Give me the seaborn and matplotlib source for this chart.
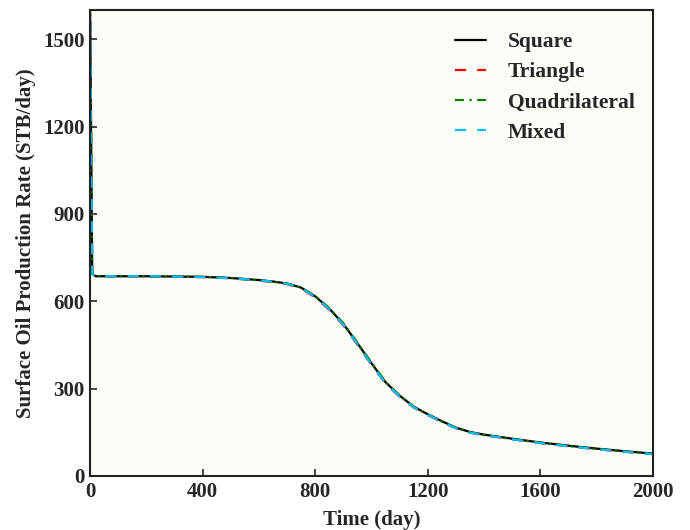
import matplotlib
matplotlib.use("Agg")
import matplotlib.pyplot as plt
import seaborn as sns
import pandas as pd

time = [0, 8, 20, 100, 200, 300, 400, 500, 600, 650, 700, 750, 800, 850, 900, 950, 1000,
        1050, 1100, 1150, 1200, 1250, 1300, 1350, 1400, 1500, 1600, 1700, 1800, 1900, 2000]
square = [1650, 695, 686, 686, 686, 685, 684, 680, 673, 668, 661, 647, 617, 575, 522, 456, 387,
          322, 276, 238, 212, 188, 166, 151, 142, 128, 115, 104, 94, 85, 77]
triangle = [1650, 694, 686, 686, 686, 685, 683, 679, 671, 666, 659, 644, 613, 571, 518, 451, 382,
            318, 272, 235, 209, 185, 164, 149, 140, 126, 113, 102, 92, 83, 75]
quadrilateral = [1650, 696, 686, 686, 686, 685, 684, 680, 672, 667, 661, 647, 618, 577, 525, 458, 389,
                 323, 276, 238, 211, 187, 165, 150, 141, 127, 114, 103, 93, 84, 76]
mixed = [1650, 694, 686, 686, 686, 685, 683, 679, 672, 667, 660, 645, 615, 573, 520, 453, 383,
         319, 273, 236, 210, 186, 164, 149, 140, 126, 113, 102, 92, 83, 75]

labels = ["Square", "Triangle", "Quadrilateral", "Mixed"]
colors = ["black", "red", "green", "deepskyblue"]
styles = ["-", (0, (5, 5)), (0, (4, 2.5, 1, 2.5)), (0, (5, 5))]

sns.set_style("ticks")
plt.rcParams["font.family"] = ["Liberation Serif", "DejaVu Serif"]
plt.rcParams["font.weight"] = "bold"

fig = plt.figure(figsize=(6.9, 5.3), dpi=100)
ax = fig.add_axes([0.1304, 0.1019, 0.8160, 0.8790])
ax.set_facecolor("#fdfdf7")

for lab, vals, c, ls in zip(labels, [square, triangle, quadrilateral, mixed], colors, styles):
    df = pd.DataFrame({"t": time, "q": vals})
    sns.lineplot(data=df, x="t", y="q", ax=ax, color=c, linestyle=ls, linewidth=1.6, label=lab)

ax.set_xlim(0, 2000)
ax.set_ylim(0, 1600)
ax.set_xticks([0, 400, 800, 1200, 1600, 2000])
ax.set_yticks([0, 300, 600, 900, 1200, 1500])
ax.tick_params(direction="in", length=5, width=1.2, labelsize=15)
ax.tick_params(axis="x", pad=4)
ax.tick_params(axis="y", pad=4)
for lbl in ax.get_xticklabels() + ax.get_yticklabels():
    lbl.set_fontweight("bold")
for s in ax.spines.values():
    s.set_linewidth(1.5)
    s.set_color("#222222")
ax.set_xlabel("Time (day)", fontsize=15, fontweight="bold", labelpad=6)
ax.set_ylabel("Surface Oil Production Rate (STB/day)", fontsize=15, fontweight="bold", labelpad=5)

leg = ax.legend(loc="upper left", frameon=False, fontsize=15.5, handlelength=1.45,
                handletextpad=1.0, labelspacing=0.47, borderpad=0, borderaxespad=0,
                bbox_to_anchor=(0.648, 0.953))
for t in leg.get_texts():
    t.set_fontweight("bold")

fig.savefig("out.png", dpi=100)
